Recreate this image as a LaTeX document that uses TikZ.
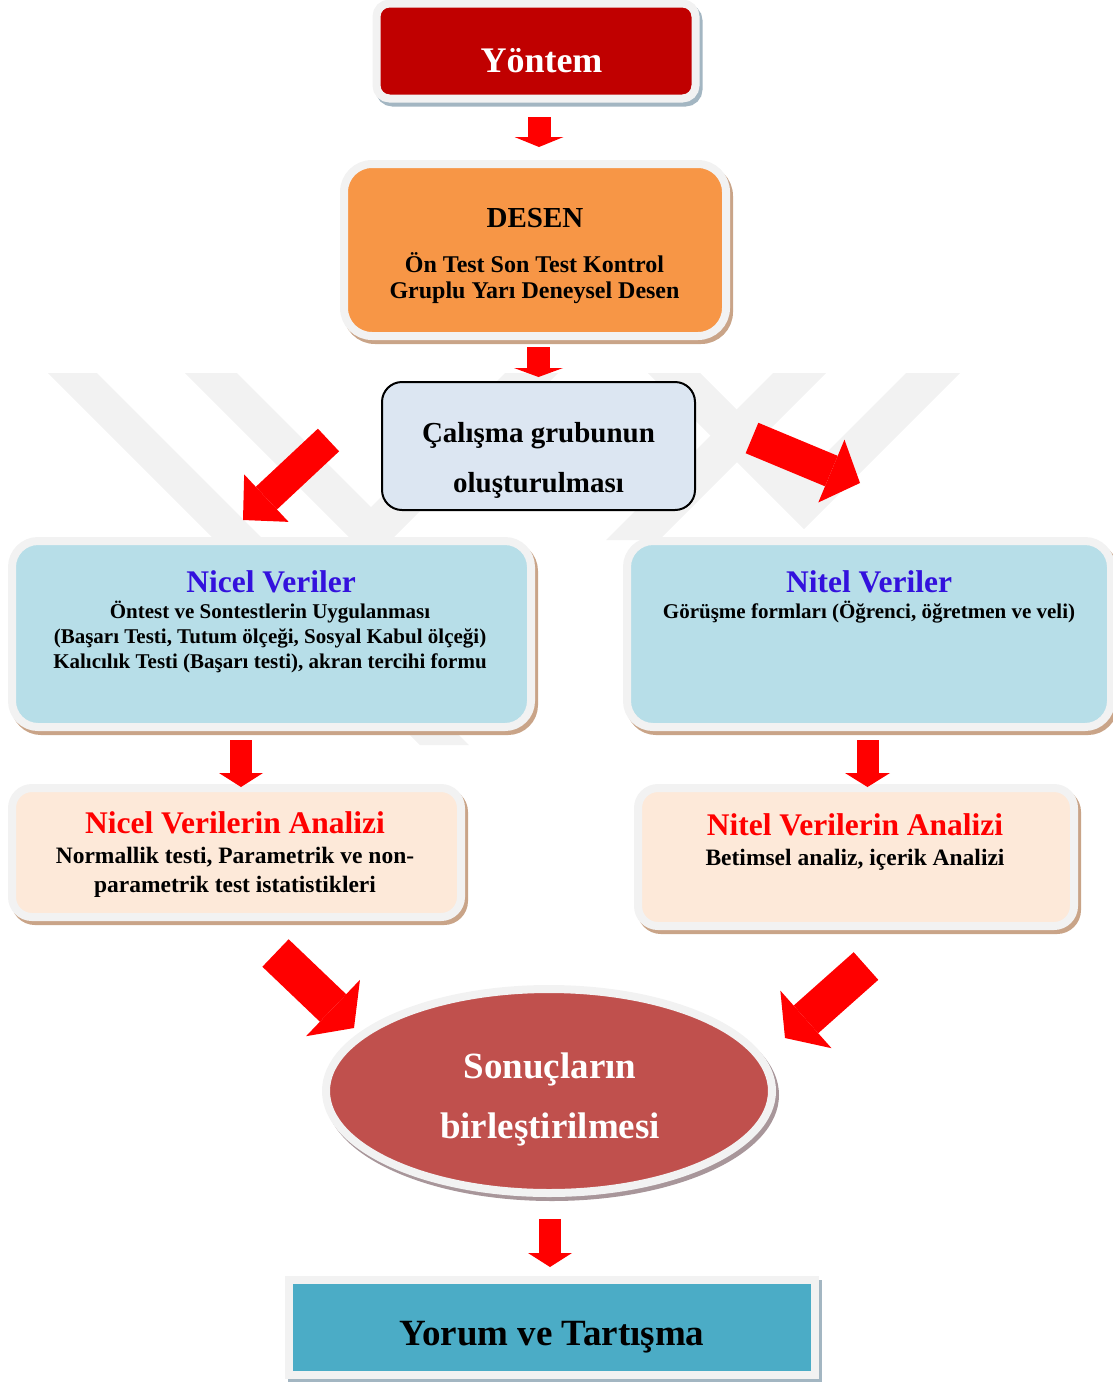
\documentclass[tikz,border=0pt]{standalone}
\usepackage{fontspec}
\setmainfont{Liberation Serif}
\usetikzlibrary{positioning,calc,shapes.geometric,arrows.meta}

\definecolor{yontemred}{HTML}{C00000}
\definecolor{framegray}{HTML}{F2F2F2}
\definecolor{shadowblue}{HTML}{A3B6C2}
\definecolor{desenorange}{HTML}{F79646}
\definecolor{shadowtan}{HTML}{C9A488}
\definecolor{grupfill}{HTML}{DCE6F2}
\definecolor{verifill}{HTML}{B7DEE8}
\definecolor{analizfill}{HTML}{FDE9D9}
\definecolor{sonucred}{HTML}{C0504D}
\definecolor{shadowmauve}{HTML}{A8969A}
\definecolor{yorumblue}{HTML}{4BACC6}
\definecolor{arrowred}{HTML}{FF0000}
\definecolor{titleblue}{HTML}{3311DD}
\definecolor{wmgray}{HTML}{F2F2F2}

\tikzset{
  panel/.style n args={2}{fill=#1,draw=framegray,line width=8pt,inner sep=0pt,outer sep=0pt,
    preaction={draw=#2,fill=#2,line width=8pt,transform canvas={shift={(3,4)}}}},
  txt/.style n args={2}{inner sep=0pt,anchor=base,align=center,font=\fontsize{#1}{#2}\selectfont\bfseries},
  redarrow/.style n args={3}{draw=arrowred,line width=#1pt,-{Triangle[length=#2pt,width=#3pt,line width=0pt]}},
}

\begin{document}
\begin{tikzpicture}[x=1pt,y=-1pt]
		\useasboundingbox (0,0) rectangle (1113,1382);
		% watermark in the back
		\fill[wmgray] (48,373) -- (97,373) -- (469,745) -- (420,745) -- cycle;
		\fill[wmgray] (185,373) -- (237,373) -- (371,507) -- (505,373) -- (558,373) -- (371.5,559.5) -- cycle;
		\fill[wmgray] (773,373) -- (826,373) -- (659,540) -- (606,540) -- cycle;
		\fill[wmgray] (648,373) -- (700,373) -- (803,476) -- (906,373) -- (960,373) -- (804,529) -- cycle;
		
		\node[panel={yontemred}{shadowblue},rounded corners=13pt,minimum width=319pt,minimum height=95pt] (yontem) at (536,51) {};
		\node[txt={36}{36},text=white,shift={(5.5,21)}] (yontemtxt) at (yontem.center) {Yöntem};
		
		\node[panel={desenorange}{shadowtan},rounded corners=28pt,minimum width=382pt,minimum height=172pt] (desen) at (535,250) {};
		\node[txt={29}{29},shift={(0,-23)}] (desentitle) at (desen.center) {DESEN};
		\node[txt={24}{26},shift={(-0.5,48)}] (desentxt) at (desen.center) {Ön Test Son Test Kontrol\\Gruplu Yarı Deneysel Desen};
		
		\node[draw=black,line width=2pt,fill=grupfill,rounded corners=20pt,minimum width=313pt,minimum height=128pt,inner sep=0pt,outer sep=0pt] (grup) at (538.5,446) {};
		\node[txt={29}{50},shift={(0,46)}] (gruptxt) at (grup.center) {Çalışma grubunun\\oluşturulması};
		
		\node[panel={verifill}{shadowtan},rounded corners=26pt,minimum width=519pt,minimum height=186pt] (nicel) at (271.5,634) {};
		\node[txt={31.5}{31.5},text=titleblue,shift={(-0.5,-42)}] (niceltitle) at (nicel.center) {Nicel Veriler};
		\node[txt={21}{25},shift={(-1.5,34)}] (niceltxt) at (nicel.center) {Öntest ve Sontestlerin Uygulanması\\(Başarı Testi, Tutum ölçeği, Sosyal Kabul ölçeği)\\Kalıcılık Testi (Başarı testi), akran tercihi formu};
		
		\node[panel={verifill}{shadowtan},rounded corners=26pt,minimum width=484pt,minimum height=186pt] (nitel) at (869,634) {};
		\node[txt={31.5}{31.5},text=titleblue,shift={(0,-42)}] (niteltitle) at (nitel.center) {Nitel Veriler};
		\node[txt={21}{25},shift={(0,-16)}] (niteltxt) at (nitel.center) {Görüşme formları (Öğrenci, öğretmen ve veli)};
		
		\node[panel={analizfill}{shadowtan},rounded corners=20pt,minimum width=449pt,minimum height=129pt] (nicelan) at (236.5,852.5) {};
		\node[txt={31.5}{31.5},text=arrowred,shift={(-1.5,-19.5)}] (nicelantitle) at (nicelan.center) {Nicel Verilerin Analizi};
		\node[txt={23.5}{28.5},shift={(-1.5,39.5)}] (nicelantxt) at (nicelan.center) {Normallik testi, Parametrik ve non-\\parametrik test istatistikleri};
		
		\node[panel={analizfill}{shadowtan},rounded corners=20pt,minimum width=436pt,minimum height=138pt] (nitelan) at (856,857) {};
		\node[txt={31.5}{31.5},text=arrowred,shift={(-1,-22)}] (nitelantitle) at (nitelan.center) {Nitel Verilerin Analizi};
		\node[txt={23.5}{28.5},shift={(-1,8)}] (nitelantxt) at (nitelan.center) {Betimsel analiz, içerik Analizi};
		
		\node[panel={sonucred}{shadowmauve},ellipse,minimum width=446pt,minimum height=204pt] (sonuc) at (549,1091) {};
		\node[txt={37}{60},text=white,shift={(1,47)}] (sonuctxt) at (sonuc.center) {Sonuçların\\birleştirilmesi};
		
		\node[panel={yorumblue}{shadowblue},minimum width=526pt,minimum height=95pt] (yorum) at (552,1327.5) {};
		\node[txt={37}{37},shift={(0,17.5)}] (yorumtxt) at (yorum.center) {Yorum ve Tartışma};
		
		\draw[redarrow={23}{10}{49}] ([shift={(3,18.5)}]yontem.south)--([shift={(4,-17)}]desen.north);
		\draw[redarrow={23}{9}{49}] ([shift={(3.5,11)}]desen.south)--([shift={(0,-5)}]grup.north);
		\draw[redarrow={31}{32}{65}] ([shift={(-53.5,-6)}]grup.west)--([shift={(-28.5,-21)}]nicel.north);
		\draw[redarrow={33}{31}{68}] ([shift={(57,-8)}]grup.east)--([shift={(-9,-58)}]nitel.north);
		\draw[redarrow={22}{14}{44}] ([shift={(-30.5,13)}]nicel.south)--([shift={(4.5,-1)}]nicelan.north);
		\draw[redarrow={22}{14}{45}] ([shift={(-1.5,13)}]nitel.south)--([shift={(11.5,-1)}]nitelan.north);
		\draw[redarrow={38}{29}{78}] ([shift={(39,36)}]nicelan.south)--([shift={(-195,-63)}]sonuc.center);
		\draw[redarrow={37}{28}{77}] ([shift={(10,40)}]nitelan.south)--([shift={(236,-53)}]sonuc.center);
		\draw[redarrow={22}{14}{44}] ([shift={(1,26)}]sonuc.south)--([shift={(-2,-13)}]yorum.north);
	\end{tikzpicture}
\end{document}
